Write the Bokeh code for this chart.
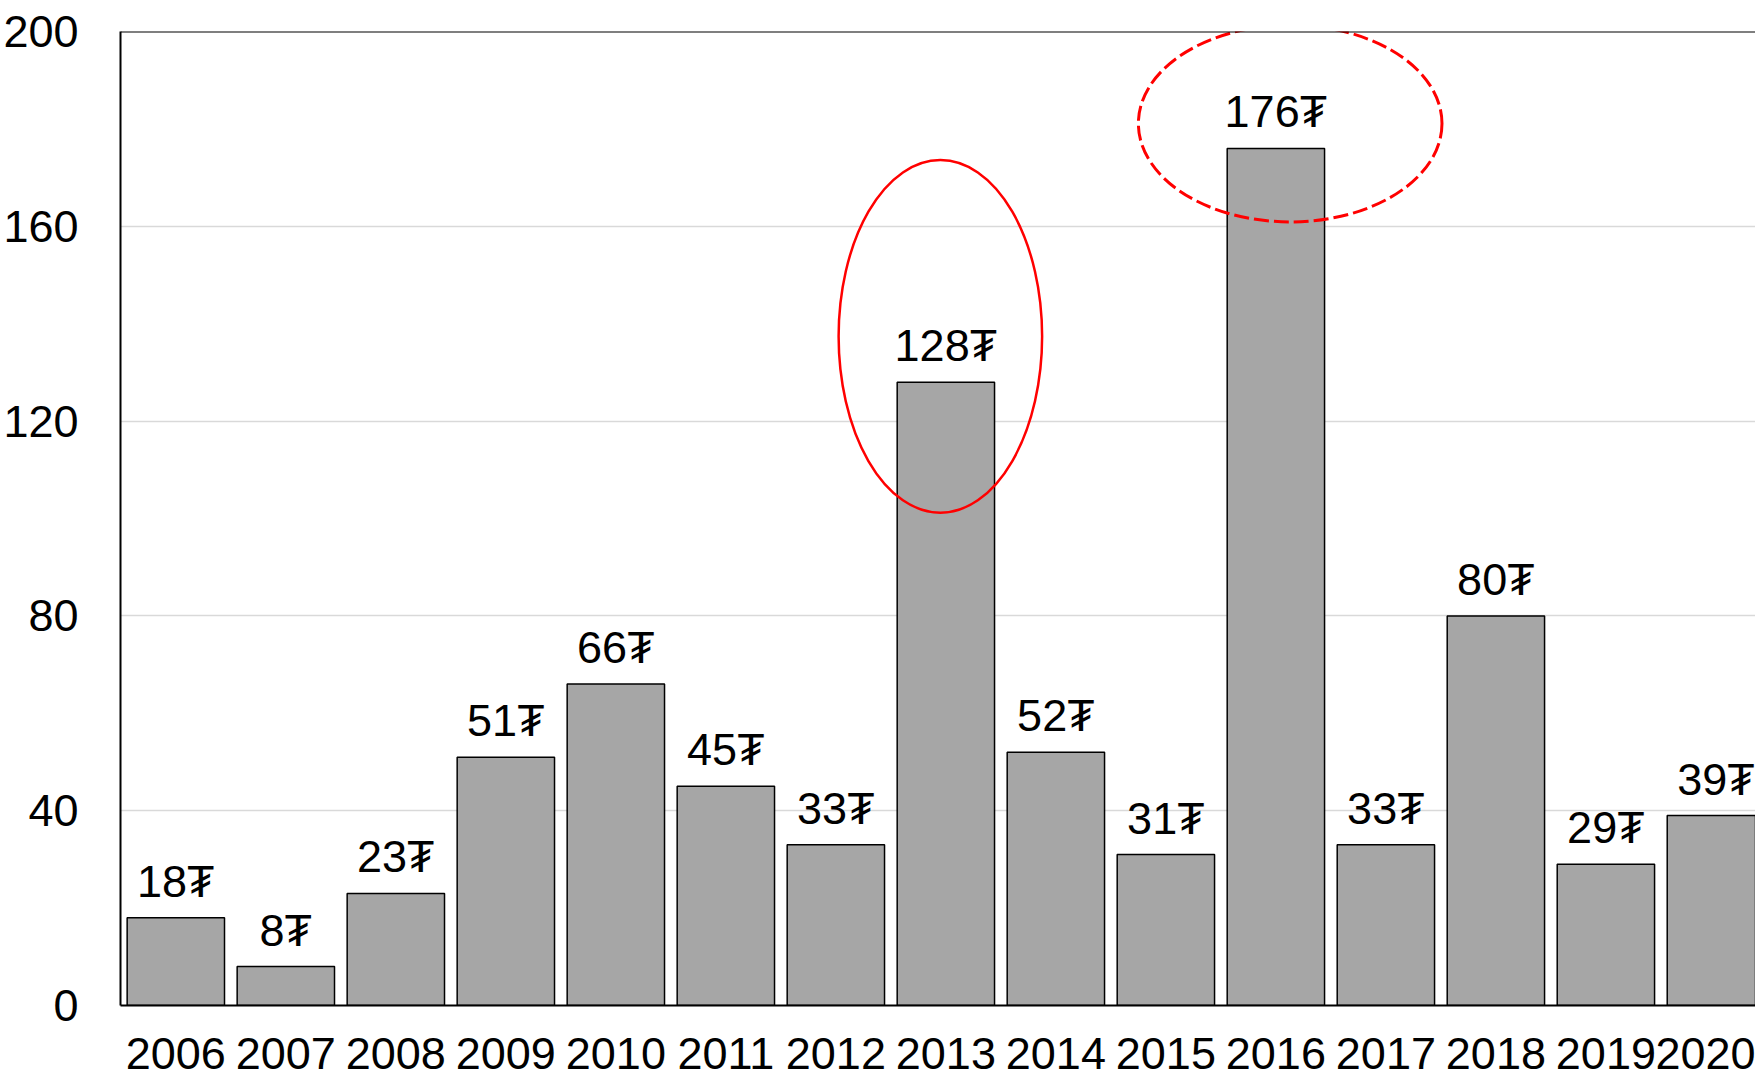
from bokeh.plotting import figure
from bokeh.models import Range1d, FixedTicker, ColumnDataSource, Span
from bokeh.core.properties import value
from bokeh.embed import file_html
from bokeh.resources import INLINE

years = [2006, 2007, 2008, 2009, 2010, 2011, 2012, 2013, 2014, 2015, 2016, 2017, 2018, 2019, 2020]
values = [18, 8, 23, 51, 66, 45, 33, 128, 52, 31, 176, 33, 80, 29, 39]
labels = [f"{v}₮" for v in values]
y_ticks = [0, 40, 80, 120, 160, 200]

FONT = "Liberation Sans"
FS = "45px"

src = ColumnDataSource(dict(x=years, top=values, label=labels))

p = figure(frame_width=1635, frame_height=974, output_backend="svg", toolbar_location=None,
           x_range=Range1d(2005.497, 2020.36), y_range=Range1d(0, 200),
           min_border_left=111, min_border_right=0, min_border_top=31, min_border_bottom=79)
p.outline_line_color = None
p.background_fill_color = "white"
p.border_fill_color = "white"

p.vbar(x="x", top="top", width=0.885, bottom=0, source=src,
       fill_color="#A6A6A6", line_color="black", line_width=1.5)

p.text(x="x", y="top", text="label", source=src, text_align="center",
       text_baseline="bottom", y_offset=-11,
       text_font=value(FONT), text_font_size=FS, text_color="black")

# highlight ellipses
p.ellipse(x=[2012.95], y=[137.4], width=[1.85], height=[72.4],
          fill_color=None, line_color="#FF0000", line_width=2.5)
p.ellipse(x=[2016.13], y=[181.1], width=[2.76], height=[40.4],
          fill_color=None, line_color="#FF0000", line_width=3, line_dash="15 5")

p.add_layout(Span(location=200, dimension="width", line_color="black", line_width=2))

p.xaxis.ticker = FixedTicker(ticks=years)
p.yaxis.ticker = FixedTicker(ticks=y_ticks)
for ax in (p.xaxis[0], p.yaxis[0]):
    ax.major_tick_line_color = None
    ax.minor_tick_line_color = None
    ax.axis_line_color = "black"
    ax.axis_line_width = 2
    ax.major_label_text_font = FONT
    ax.major_label_text_font_size = FS
    ax.major_label_text_color = "black"
p.yaxis.major_label_standoff = 36
p.xaxis.major_label_standoff = 26

p.xgrid.grid_line_color = None
p.ygrid.grid_line_color = "#D9D9D9"
p.ygrid.grid_line_width = 1.5

open("out.html", "w").write(file_html(p, INLINE))
